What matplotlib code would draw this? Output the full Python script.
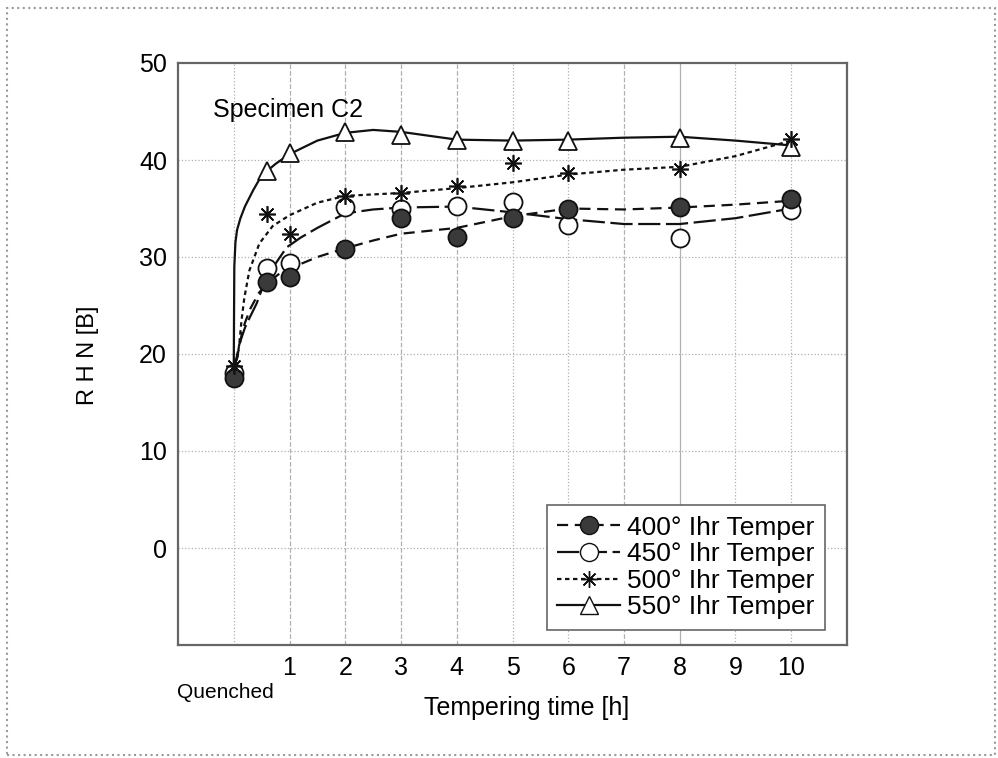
import numpy as np
import matplotlib
matplotlib.use("Agg")
from matplotlib import pyplot as plt
from matplotlib.lines import Line2D
from matplotlib.patches import Rectangle

plt.rcParams['font.family'] = ['Liberation Sans', 'DejaVu Sans']

# measured hardness points
times = [0, 0.6, 1, 2, 3, 4, 5, 6, 8, 10]
rhn_400 = [17.5, 27.4, 27.9, 30.8, 34.0, 32.1, 34.0, 35.0, 35.2, 36.0]
rhn_450 = [18.0, 28.9, 29.4, 35.2, 35.0, 35.3, 35.7, 33.3, 32.0, 34.8]
rhn_500 = [18.8, 34.4, 32.4, 36.3, 36.6, 37.3, 39.7, 38.7, 39.1, 42.2]
rhn_550 = [18.5, 38.9, 40.7, 42.9, 42.6, 42.1, 42.0, 42.0, 42.3, 41.3]

# trend curves
trend_400_x = [0, 0.05, 0.1, 0.15, 0.2, 0.3, 0.45, 0.6, 0.8, 1, 1.5, 2, 2.5, 3, 4, 4.5, 5, 6, 7, 8, 9, 10]
trend_400_y = [17.5, 19.3, 20.8, 22.2, 23.2, 24.7, 26.3, 27.3, 28.2, 28.8, 30.0, 30.9, 31.7, 32.4, 33.0, 33.6, 34.2, 35.0, 34.9, 35.1, 35.4, 35.8]
trend_450_x = [0, 0.05, 0.1, 0.2, 0.29, 0.41, 0.52, 0.7, 0.95, 1.2, 1.5, 2, 2.5, 3, 4, 5, 6, 7, 8, 9, 10]
trend_450_y = [18.0, 19.6, 21.0, 22.7, 23.8, 25.2, 26.9, 28.9, 31.0, 32.0, 33.0, 34.5, 34.9, 35.1, 35.2, 34.6, 33.9, 33.4, 33.4, 34.0, 35.0]
trend_500_x = [0, 0.04, 0.07, 0.1, 0.14, 0.19, 0.28, 0.46, 0.7, 1, 1.5, 2, 3, 4, 5, 6, 7, 8, 9, 10]
trend_500_y = [18.8, 19.2, 19.8, 21.1, 23.5, 25.8, 28.6, 31.4, 33.2, 34.3, 35.6, 36.3, 36.6, 37.1, 37.7, 38.5, 39.0, 39.3, 40.4, 42.0]
trend_550_x = [0, 0.005, 0.01, 0.03, 0.06, 0.12, 0.2, 0.35, 0.5, 0.75, 1, 1.5, 2, 2.5, 3, 4, 5, 6, 7, 8, 9, 10]
trend_550_y = [18.5, 24.0, 29.0, 31.5, 32.8, 34.0, 35.2, 36.9, 38.4, 39.6, 40.6, 42.0, 42.8, 43.1, 42.9, 42.1, 42.0, 42.1, 42.3, 42.4, 42.0, 41.5]

labels = ["400° Ihr Temper", "450° Ihr Temper", "500° Ihr Temper", "550° Ihr Temper"]
xtick_vals = [1, 2, 3, 4, 5, 6, 7, 8, 9, 10]
ytick_vals = [0, 10, 20, 30, 40, 50]

fig = plt.figure(figsize=(9.98, 7.58), dpi=100)
ax = fig.add_axes([178/998, 1-645/758, 669/998, 582/758])
ax.set_xlim(-1, 11)
ax.set_ylim(-10, 50)

# grid
grid_styles = {0: ':', 1: '--', 2: '--', 3: '--', 4: '--', 5: ':', 6: ':', 7: '--', 8: '-', 9: ':', 10: ':'}
for gx, ls in grid_styles.items():
    ax.axvline(gx, color='#b0b0b0', lw=0.9, ls=ls, zorder=0)
for gy in [0, 10, 20, 30, 40]:
    ax.axhline(gy, color='#b0b0b0', lw=0.9, ls=':', zorder=0)

lw = 1.6
dash_400 = (0, (5, 3))
dash_450 = (0, (10, 2.5))
dash_500 = (0, (2, 1.6))

ax.plot(trend_550_x, trend_550_y, color='#111', lw=lw, ls='-', zorder=2)
ax.plot(trend_450_x, trend_450_y, color='#111', lw=lw, ls=dash_450, zorder=2)
ax.plot(trend_400_x, trend_400_y, color='#111', lw=lw, ls=dash_400, zorder=2)
ax.plot(trend_500_x, trend_500_y, color='#111', lw=lw, ls=dash_500, zorder=2)

ax.plot(times[1:], rhn_550[1:], ls='none', marker='^', ms=13, mfc='white', mec='#111', mew=1.3, zorder=3)
ax.plot(times, rhn_450, ls='none', marker='o', ms=13, mfc='white', mec='#111', mew=1.3, zorder=4)
ax.plot(times, rhn_400, ls='none', marker='o', ms=13, mfc='#3a3a3a', mec='#111', mew=1.3, zorder=5)
ax.plot(times, rhn_500, ls='none', marker=(8, 2, 0), ms=12, color='#111', mew=1.2, zorder=6)

ax.set_xticks(xtick_vals)
ax.set_yticks(ytick_vals)
ax.tick_params(length=0, labelsize=18, pad=8)
for s in ax.spines.values():
    s.set_color('#666')
    s.set_linewidth(1.6)

ax.text(0.052, 0.92, "Specimen C2", transform=ax.transAxes, fontsize=18, ha='left', va='center')
fig.text(177/998, 1-692/758, "Quenched", fontsize=15, ha='left', va='center')
fig.text(527/998, 1-708/758, "Tempering time [h]", fontsize=18, ha='center', va='center')
fig.text(88/998, 1-355/758, "R H N [B]", fontsize=17, ha='center', va='center', rotation=90)

handles = [
    Line2D([], [], color='#111', lw=lw, ls=dash_400, marker='o', ms=13, mfc='#3a3a3a', mec='#111'),
    Line2D([], [], color='#111', lw=lw, ls=dash_450, marker='o', ms=13, mfc='white', mec='#111'),
    Line2D([], [], color='#111', lw=lw, ls=dash_500, marker=(8, 2, 0), ms=12, mec='#111'),
    Line2D([], [], color='#111', lw=lw, ls='-', marker='^', ms=13, mfc='white', mec='#111'),
]
leg = ax.legend(handles, labels, loc='lower right', bbox_to_anchor=(825/998, 1-630/758),
                bbox_transform=fig.transFigure, fontsize=19, frameon=True, fancybox=False,
                handlelength=2.4, handletextpad=0.25, labelspacing=0.1, borderpad=0.4,
                borderaxespad=0)
leg.get_frame().set_edgecolor('#666')
leg.get_frame().set_linewidth(1.2)
leg.get_frame().set_alpha(1)

fig.patches.append(Rectangle((7/998, 3/758), 988/998, 747/758, transform=fig.transFigure,
                             fill=False, edgecolor='#9a9a9a', lw=1.5, ls=':'))

fig.savefig("out.png", dpi=100)
